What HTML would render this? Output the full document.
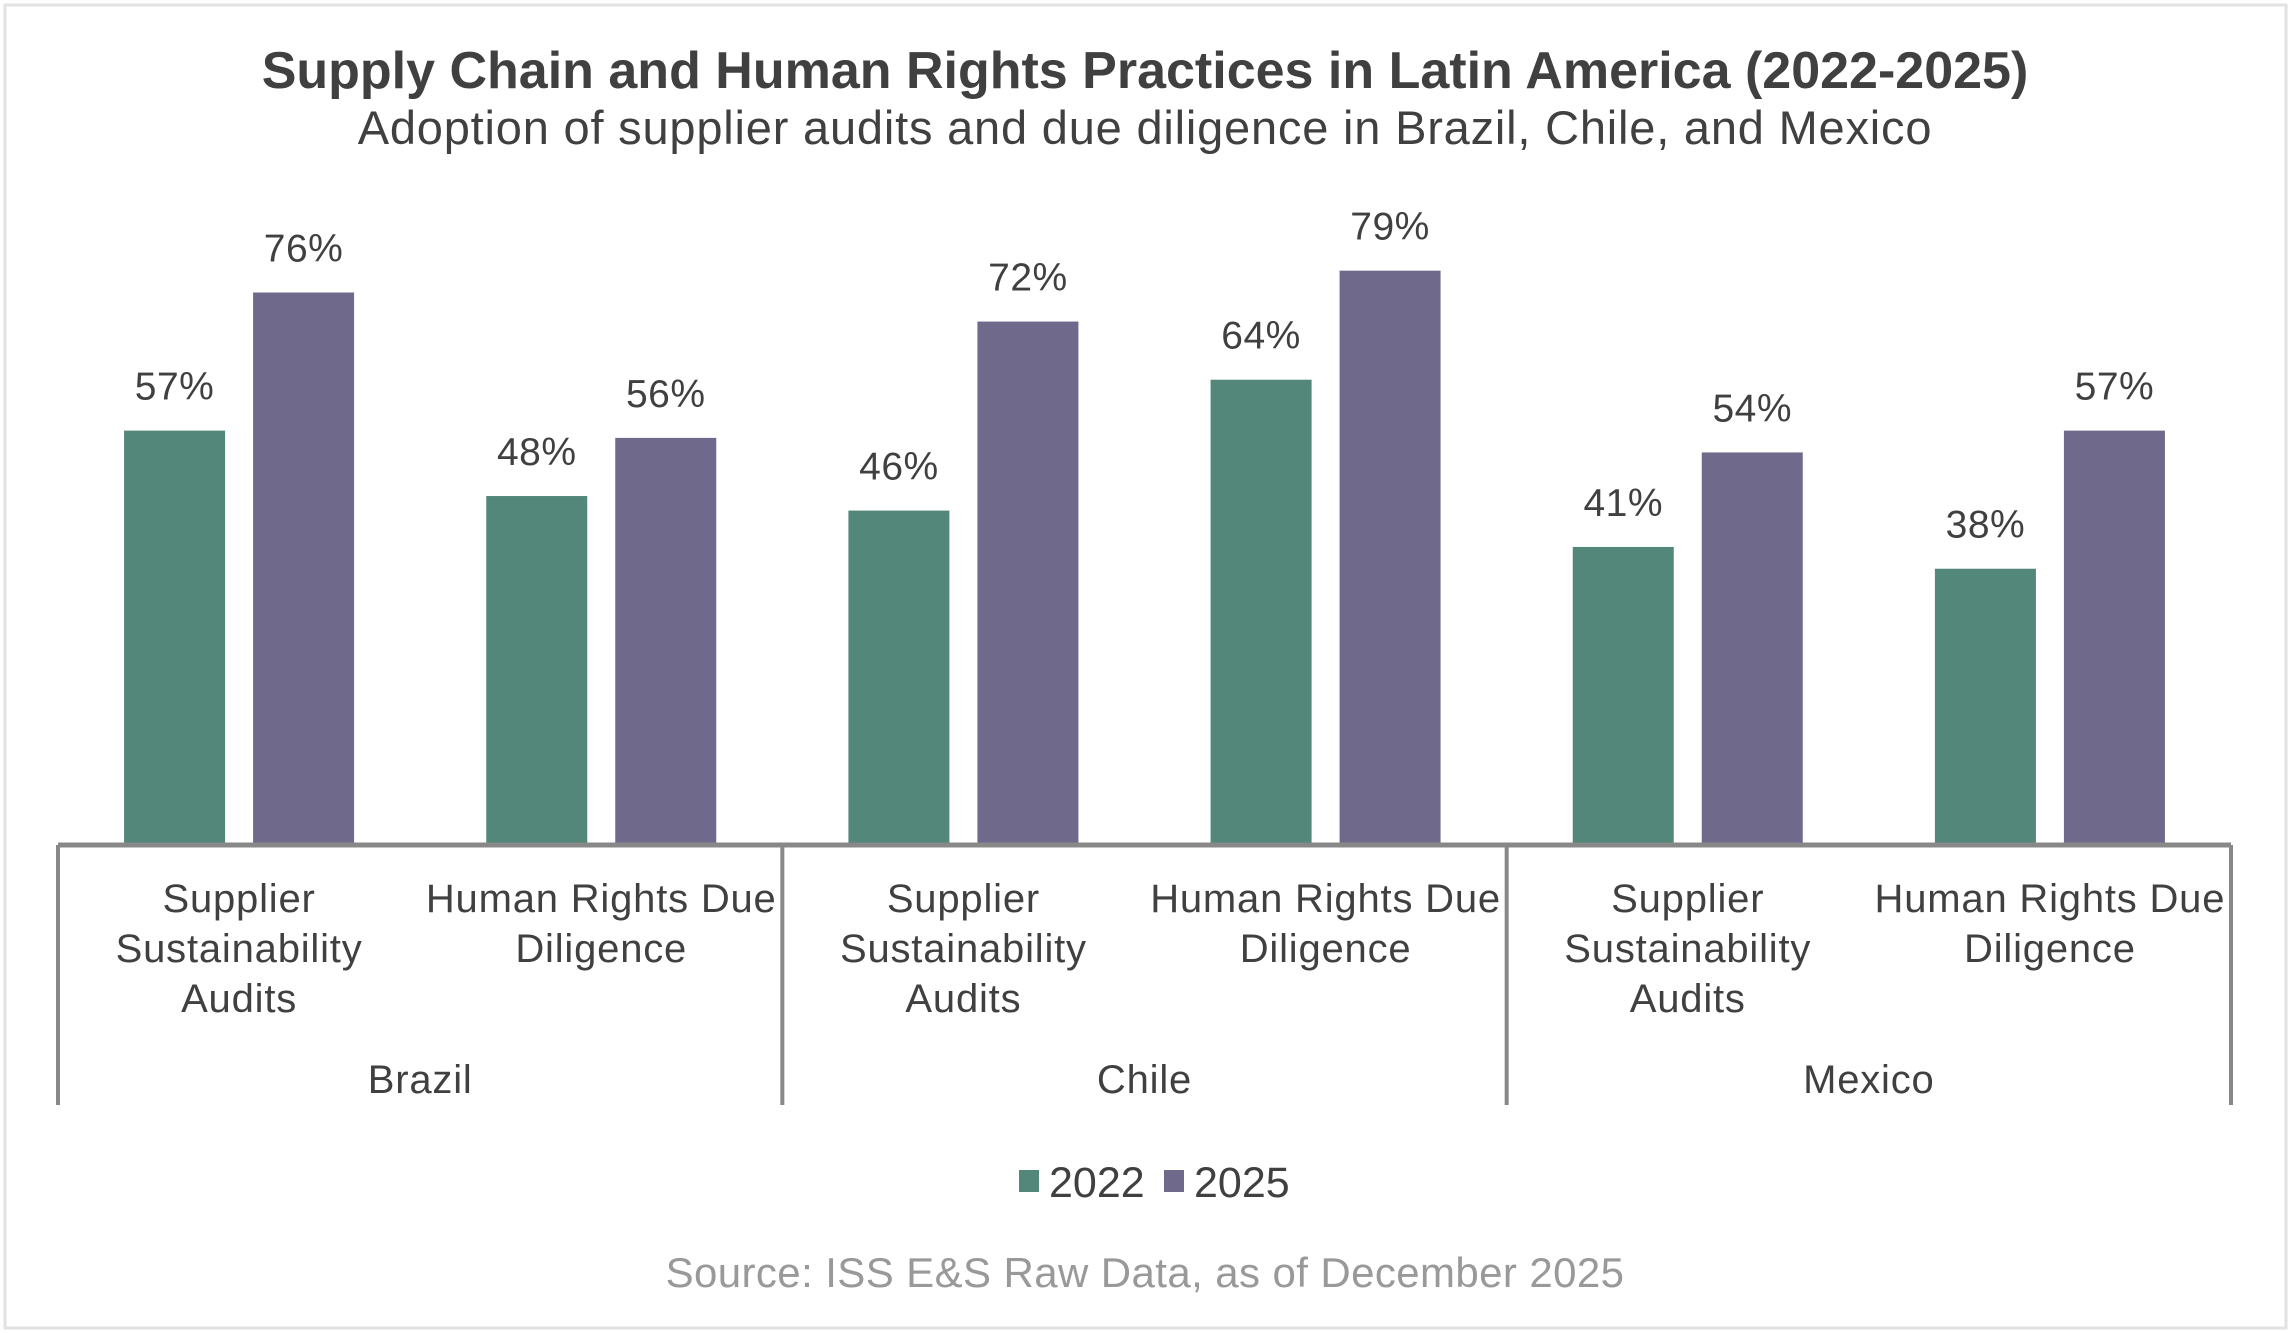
<!DOCTYPE html>
<html><head><meta charset="utf-8">
<style>
html,body{margin:0;padding:0;background:#fff;}
svg{display:block;font-family:"Liberation Sans",sans-serif;}
</style></head>
<body>
<svg id="chart" width="2291" height="1333" viewBox="0 0 2291 1333" xmlns="http://www.w3.org/2000/svg">
<rect x="5" y="5" width="2281" height="1323" fill="#fff" stroke="#e2e2e2" stroke-width="3"/>
<text x="1145" y="88" text-anchor="middle" font-size="52" font-weight="bold" fill="#404040">Supply Chain and Human Rights Practices in Latin America (2022-2025)</text>
<text x="1145" y="144" text-anchor="middle" font-size="47" letter-spacing="0.8" fill="#404040">Adoption of supplier audits and due diligence in Brazil, Chile, and Mexico</text>
<g id="plot"></g>
<g>
<rect x="1019" y="1170" width="20" height="22" fill="#52877a"/>
<text x="1049" y="1197" font-size="43" fill="#404040">2022</text>
<rect x="1164" y="1170" width="20" height="22" fill="#6f698c"/>
<text x="1194" y="1197" font-size="43" fill="#404040">2025</text>
</g>
<text x="1145" y="1287" text-anchor="middle" font-size="42" letter-spacing="0.4" fill="#999">Source: ISS E&amp;S Raw Data, as of December 2025</text>
</svg>
<script>
const countries = ["Brazil", "Chile", "Mexico"];
const categories = ["Supplier|Sustainability|Audits", "Human Rights Due|Diligence"];
const values2022 = [57, 48, 46, 64, 41, 38];
const values2025 = [76, 56, 72, 79, 54, 57];
const valueLabels2022 = ["57%", "48%", "46%", "64%", "41%", "38%"];
const valueLabels2025 = ["76%", "56%", "72%", "79%", "54%", "57%"];

const NS = "http://www.w3.org/2000/svg";
const plot = document.getElementById("plot");
const x0 = 58, x1 = 2231, baseY = 845, pxPerPct = 7.27;
const nCat = countries.length * categories.length;
const catW = (x1 - x0) / nCat;
const barW = 101, gap = 28;
function yScale(v){ return baseY - v * pxPerPct; }
function xCenter(i){ return x0 + catW * (i + 0.5); }
function mk(tag, attrs){ const e = document.createElementNS(NS, tag); for (const k in attrs) e.setAttribute(k, attrs[k]); plot.appendChild(e); return e; }

const series = [
  {vals: values2022, labels: valueLabels2022, color: "#52877a", off: -(gap/2 + barW), key: "2022"},
  {vals: values2025, labels: valueLabels2025, color: "#6f698c", off: gap/2, key: "2025"}
];
for (let i = 0; i < nCat; i++) {
  series.forEach(s => {
    const v = s.vals[i];
    const bx = xCenter(i) + s.off;
    const r = mk("rect", {x: bx, y: yScale(v), width: barW, height: baseY - yScale(v), fill: s.color});
    
    
    const t = mk("text", {x: bx + barW/2, y: yScale(v) - 31, "text-anchor": "middle", "font-size": 39, "letter-spacing": 0.5, fill: "#404040"});
    
    
    t.textContent = s.labels[i];
  });
  const lines = categories[i % categories.length].split("|");
  lines.forEach((ln, j) => {
    const t = mk("text", {x: xCenter(i), y: 912 + j * 50, "text-anchor": "middle", "font-size": 40, "letter-spacing": 0.8, fill: "#404040"});
    
    
    t.textContent = ln;
  });
}
const ax = mk("line", {x1: x0, x2: x1, y1: baseY, y2: baseY, stroke: "#888", "stroke-width": 5});


const grpW = catW * categories.length;
for (let g = 0; g <= countries.length; g++) {
  const tx = x0 + g * grpW;
  const tk = mk("line", {x1: tx, x2: tx, y1: baseY, y2: 1105, stroke: "#888", "stroke-width": 4});
  
  
}
countries.forEach((c, g) => {
  const t = mk("text", {x: x0 + grpW * (g + 0.5), y: 1093, "text-anchor": "middle", "font-size": 40, "letter-spacing": 0.8, fill: "#404040"});
  
  
  t.textContent = c;
});
</script>
</body></html>
